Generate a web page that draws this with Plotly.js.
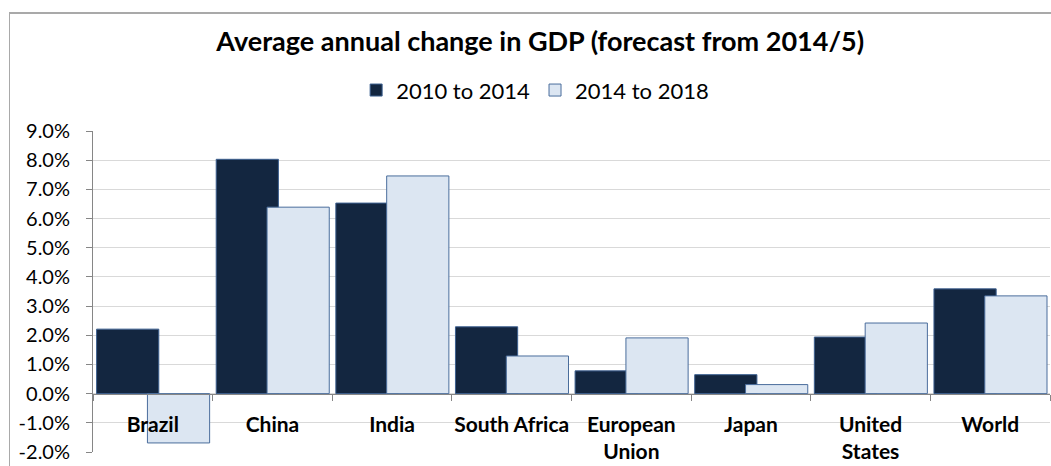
<!DOCTYPE html>
<html>
<head>
<meta charset="utf-8">
<script src="https://cdn.plot.ly/plotly-3.0.1.min.js"></script>
<style>
  html, body { margin: 0; padding: 0; background: #fff; overflow: hidden; }
  #wrap { position: relative; width: 1051px; height: 466px; }
  #chart { position: absolute; left: 0; top: 0; width: 1051px; height: 466px; }
  #frame { position: absolute; left: 9px; top: 12px; width: 1100px; height: 500px;
           border-top: 2px solid #a9a9a9; border-left: 1px solid #a9a9a9;
           pointer-events: none; box-sizing: border-box; }
</style>
</head>
<body>
<div id="wrap">
  <div id="frame"></div>
  <div id="chart"></div>
</div>
<script>
// Data (percent)
const categories = ["Brazil", "China", "India", "South Africa", "European<br>Union", "Japan", "United<br>States", "World"];
const series1Name = "2010 to 2014";
const series2Name = "2014 to 2018";
const series1 = [2.21, 8.03, 6.53, 2.29, 0.78, 0.65, 1.94, 3.59];
const series2 = [-1.69, 6.39, 7.46, 1.29, 1.91, 0.31, 2.42, 3.35];
const yTickValues = [-2, -1, 0, 1, 2, 3, 4, 5, 6, 7, 8, 9];

const FONT = "Lato, 'Open Sans', sans-serif";
const yMin = -2, yMax = 9;

const traces = [
  {
    type: "bar", name: series1Name, x: categories, y: series1,
    width: 0.52, offset: -0.47,
    marker: { color: "#132640", line: { color: "#3d6090", width: 1 } },
    hoverinfo: "x+y+name"
  },
  {
    type: "bar", name: series2Name, x: categories, y: series2,
    width: 0.52, offset: -0.045,
    marker: { color: "#dce6f2", line: { color: "#4a6d9c", width: 1 } },
    hoverinfo: "x+y+name"
  }
];

const layout = {
  width: 1051, height: 466,
  paper_bgcolor: "rgba(0,0,0,0)", plot_bgcolor: "rgba(0,0,0,0)",
  margin: { l: 93, r: 1, t: 131, b: 14, pad: 0 },
  barmode: "overlay",
  showlegend: true,
  font: { family: FONT, color: "#000" },
  title: {
    text: "<b>Average annual change in GDP (forecast from 2014/5)</b>",
    font: { family: FONT, size: 27, color: "#000" },
    xref: "container", yref: "container",
    x: 0.514, y: 0.91, xanchor: "center", yanchor: "middle"
  },
  legend: {
    orientation: "h", x: 0.462, y: 1.127, xanchor: "center", yanchor: "middle",
    font: { family: FONT, size: 22, color: "#000" },
    itemwidth: 30, traceorder: "normal", bgcolor: "rgba(0,0,0,0)"
  },
  xaxis: {
    type: "category",
    anchor: "free",
    position: (0 - yMin) / (yMax - yMin),
    showline: true, linecolor: "#868686", linewidth: 1,
    ticks: "outside", tickson: "boundaries", ticklen: 6, tickcolor: "#868686", tickwidth: 1,
    showgrid: false, zeroline: false,
    tickangle: 0, automargin: false,
    tickfont: { family: FONT, size: 21, color: "#000", weight: "bold" },
    ticklabelstandoff: 12,
    fixedrange: true
  },
  yaxis: {
    range: [yMin, yMax],
    tickvals: yTickValues,
    ticktext: yTickValues.map(v => v.toFixed(1) + "%"),
    showline: true, linecolor: "#868686", linewidth: 1,
    ticks: "outside", ticklen: 6, tickcolor: "#868686", tickwidth: 1,
    showgrid: true, gridcolor: "#d9d9d9", gridwidth: 1,
    zeroline: false, automargin: false,
    tickfont: { family: FONT, size: 20, color: "#000" },
    ticklabelstandoff: 12,
    fixedrange: true
  }
};

Plotly.newPlot("chart", traces, layout, { displayModeBar: false, staticPlot: true });
</script>
</body>
</html>
